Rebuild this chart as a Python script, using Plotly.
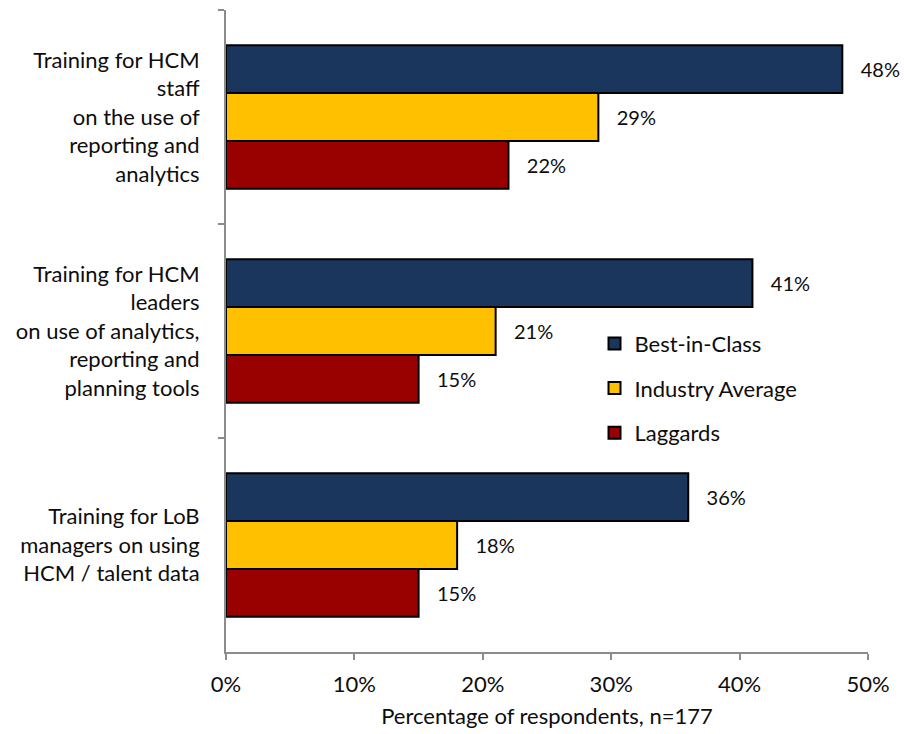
import plotly.graph_objects as go

# Survey categories (top to bottom) and the share of respondents per maturity class
categories = [
    "Training for HCM<br>staff<br>on the use of<br>reporting and<br>analytics",
    "Training for HCM<br>leaders<br>on use of analytics,<br>reporting and<br>planning tools",
    "Training for LoB<br>managers on using<br>HCM / talent data",
]
series_names = ["Best-in-Class", "Industry Average", "Laggards"]
best_in_class = [48, 41, 36]
industry_average = [29, 21, 18]
laggards = [22, 15, 15]
series_colors = ["#1B365D", "#FFC000", "#990000"]

x_ticks = [0, 10, 20, 30, 40, 50]
x_tick_labels = ["0%", "10%", "20%", "30%", "40%", "50%"]

FONT = "Lato, 'Open Sans', sans-serif"
TEXT = "#0D0D0D"
AXIS_GRAY = "#8C8C8C"
SIZE = 22

fig = go.Figure()
for name, values, color in zip(series_names, [best_in_class, industry_average, laggards], series_colors):
    fig.add_trace(go.Bar(
        name=name,
        legendgroup=name,
        orientation="h",
        x=values,
        y=categories,
        marker=dict(color=color, line=dict(color="#000000", width=2)),
        text=[f"\u00a0\u00a0\u00a0{v}%" for v in values],
        textposition="outside",
        textfont=dict(family=FONT, size=20, color=TEXT),
        cliponaxis=False,
        hoverinfo="x+name",
    ))

fig.update_layout(
    width=904,
    height=734,
    margin=dict(l=226, r=36, t=10, b=82),
    paper_bgcolor="white",
    plot_bgcolor="white",
    barmode="group",
    bargap=0.33,
    bargroupgap=0,
    font=dict(family=FONT, size=SIZE, color=TEXT),
    showlegend=True,
    legend=dict(
        x=0.574, y=0.513, xanchor="left", yanchor="top",
        traceorder="grouped",
        tracegroupgap=13,
        font=dict(family=FONT, size=SIZE, color=TEXT),
        bgcolor="rgba(0,0,0,0)",
        itemwidth=30,
    ),
    xaxis=dict(
        range=[0, 50],
        tickvals=x_ticks,
        ticktext=x_tick_labels,
        showgrid=False,
        zeroline=False,
        showline=True,
        linecolor=AXIS_GRAY,
        linewidth=2,
        ticks="outside",
        tickcolor=AXIS_GRAY,
        tickwidth=2,
        ticklen=6,
        ticklabelstandoff=6,
        tickfont=dict(family=FONT, size=SIZE, color=TEXT),
        title=dict(text="Percentage of respondents, n=177", standoff=12,
                   font=dict(family=FONT, size=SIZE, color=TEXT)),
    ),
    yaxis=dict(
        autorange="reversed",
        showgrid=False,
        zeroline=False,
        showline=True,
        linecolor=AXIS_GRAY,
        linewidth=2,
        ticks="outside",
        tickson="boundaries",
        tickcolor=AXIS_GRAY,
        tickwidth=2,
        ticklen=6,
        ticklabelstandoff=20,
        tickfont=dict(family=FONT, size=SIZE, color=TEXT),
    ),
)

fig.write_html("out.html")
